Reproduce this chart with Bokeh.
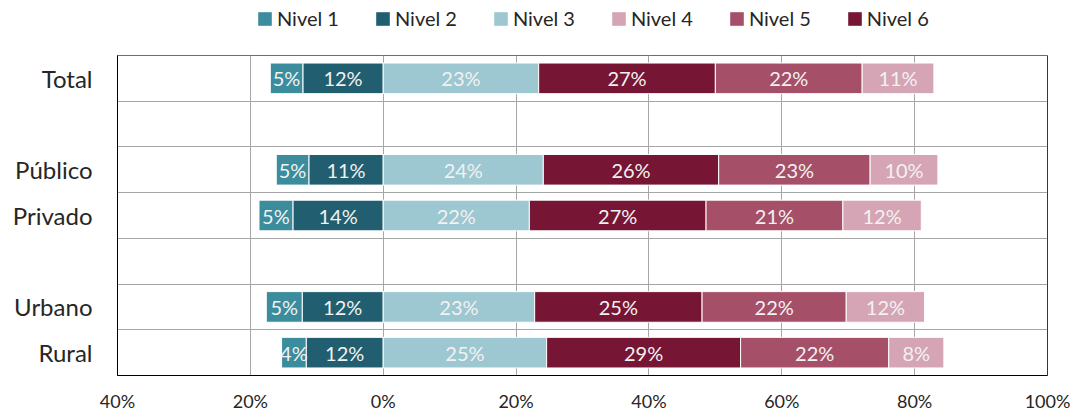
from bokeh.plotting import figure
from bokeh.layouts import column
from bokeh.models import (Range1d, FixedTicker, CustomJSTickFormatter, Legend, LegendItem,
                          ColumnDataSource, Span)
from bokeh.core.properties import value
from bokeh.embed import file_html
from bokeh.resources import INLINE

# ---- data ----
categories = ["Total", "", "Público", "Privado", "", "Urbano", "Rural"]
groups = ["Total", "Público", "Privado", "Urbano", "Rural"]
nivel1 = [4.9, 4.9, 5.1, 5.4, 3.7]
nivel2 = [12.1, 11.2, 13.6, 12.2, 11.6]
nivel3 = [23.4, 24.1, 22.0, 22.8, 24.6]
nivel4 = [10.8, 10.2, 11.8, 11.8, 8.3]
nivel5 = [22.1, 22.8, 20.6, 21.7, 22.3]
nivel6 = [26.6, 26.4, 26.6, 25.2, 29.2]
x_ticks = [-40, -20, 0, 20, 40, 60, 80, 100]
legend_order = ["Nivel 1", "Nivel 2", "Nivel 3", "Nivel 4", "Nivel 5", "Nivel 6"]

colors = {"Nivel 1": "#3b8c9d", "Nivel 2": "#215f70", "Nivel 3": "#9dc7d1",
          "Nivel 4": "#d5a5b5", "Nivel 5": "#a64f68", "Nivel 6": "#761534"}

FONT = "Lato"

# ---- main chart ----
p = figure(width=1082, height=360, output_backend="svg", toolbar_location=None,
           x_range=Range1d(-40, 100), y_range=Range1d(len(categories) - 0.5, -0.5),
           min_border_left=117, min_border_right=35, min_border_top=1, min_border_bottom=37)
p.outline_line_color = "#6e6e6e"
p.background_fill_color = "white"
p.border_fill_color = "white"

ypos = [categories.index(g) for g in groups]

segs = []
neg2_left = [-v for v in nivel2]
segs.append(("Nivel 2", neg2_left, [0] * len(groups), nivel2))
neg1_left = [-(a + b) for a, b in zip(nivel1, nivel2)]
segs.append(("Nivel 1", neg1_left, neg2_left, nivel1))
left = [0] * len(groups)
for name, vals in [("Nivel 3", nivel3), ("Nivel 6", nivel6), ("Nivel 5", nivel5), ("Nivel 4", nivel4)]:
    right = [l + v for l, v in zip(left, vals)]
    segs.append((name, left, right, vals))
    left = right

for name, l, r, vals in segs:
    src = ColumnDataSource(dict(y=ypos, left=l, right=r,
                                xc=[(a + b) / 2 for a, b in zip(l, r)],
                                lab=["%d%%" % round(v) for v in vals]))
    p.hbar(y="y", left="left", right="right", height=0.67, source=src,
           fill_color=colors[name], line_color="white", line_width=1)
    p.text(x="xc", y="y", text="lab", source=src, text_align="center", text_baseline="middle",
           text_font=value(FONT), text_font_size="20px", text_color="#f2f2f2")

p.add_layout(Span(location=100, dimension="height", line_color="black", line_width=1))

p.xaxis.ticker = FixedTicker(ticks=x_ticks)
p.xaxis.formatter = CustomJSTickFormatter(code="return Math.abs(tick) + '%';")
p.xaxis.major_tick_line_color = None
p.xaxis.minor_tick_line_color = None
p.xaxis.axis_line_color = "black"
p.xaxis.major_label_text_font = FONT
p.xaxis.major_label_text_font_size = "18px"
p.xaxis.major_label_text_color = "#262626"
p.xaxis.major_label_standoff = 8

label_idx = [i for i, c in enumerate(categories) if c]
p.yaxis.ticker = FixedTicker(ticks=label_idx)
p.yaxis.major_label_overrides = {i: categories[i] for i in label_idx}
p.yaxis.major_tick_line_color = None
p.yaxis.minor_tick_line_color = None
p.yaxis.axis_line_color = "black"
p.yaxis.major_label_text_font = FONT
p.yaxis.major_label_text_font_size = "24px"
p.yaxis.major_label_text_color = "#262626"
p.yaxis.major_label_standoff = 19

p.xgrid.ticker = FixedTicker(ticks=x_ticks)
p.xgrid.grid_line_color = "#a6a6a6"
p.ygrid.ticker = FixedTicker(ticks=[i + 0.5 for i in range(len(categories) - 1)])
p.ygrid.grid_line_color = "#a6a6a6"

# ---- legend strip ----
lg = figure(width=1082, height=54, output_backend="svg", toolbar_location=None,
            x_axis_type=None, y_axis_type=None, x_range=Range1d(0, 1), y_range=Range1d(0, 1),
            min_border_left=0, min_border_right=0, min_border_top=0, min_border_bottom=0)
lg.outline_line_color = None
lg.xgrid.visible = False
lg.ygrid.visible = False
items = []
for name in legend_order:
    # swatch-only renderer, placed outside the visible range
    r = lg.quad(left=[2], right=[3], bottom=[2], top=[3], fill_color=colors[name], line_color=None)
    items.append(LegendItem(label=name, renderers=[r]))
legend = Legend(items=items, orientation="horizontal", location=(139, 24),
                label_text_font=FONT, label_text_font_size="20px", label_text_color="#262626",
                glyph_width=17, glyph_height=17, label_standoff=4, spacing=35,
                padding=0, margin=0, border_line_alpha=0, background_fill_alpha=0)
lg.add_layout(legend, "center")

layout = column(lg, p, spacing=0)
open("out.html", "w").write(file_html(layout, INLINE))
